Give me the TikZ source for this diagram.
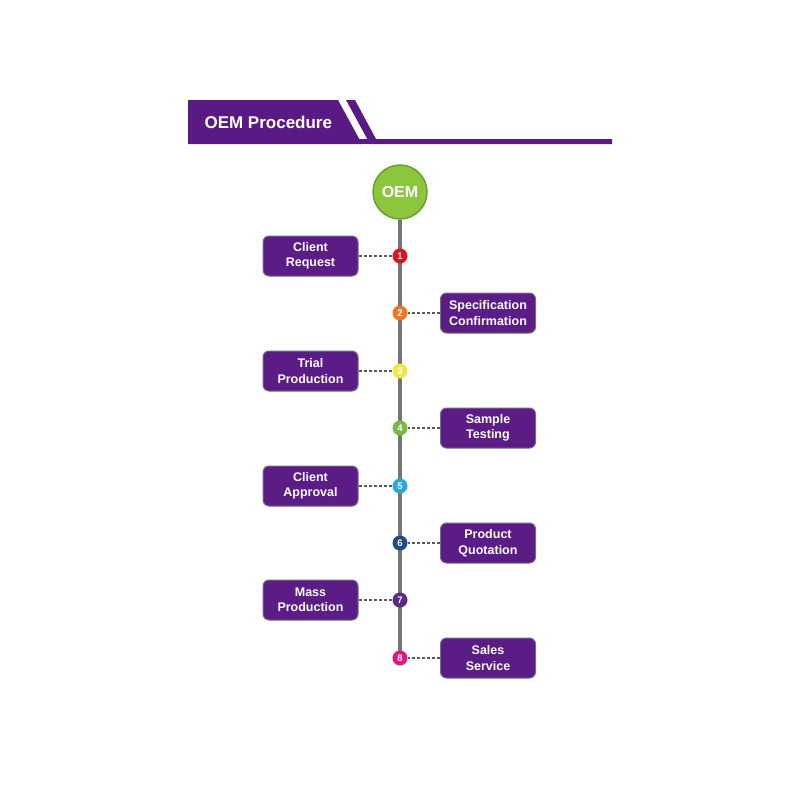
\documentclass[tikz,border=0pt]{standalone}
\usepackage{fontspec}
\setmainfont{Liberation Sans}
\definecolor{hpurple}{HTML}{5A1A83}
\definecolor{bpurple}{HTML}{5B1C85}
\definecolor{bborder}{HTML}{77698A}
\definecolor{oemgreen}{HTML}{8CC63F}
\definecolor{oemborder}{HTML}{6E9E32}
\definecolor{linegray}{HTML}{767676}
\definecolor{dashgray}{HTML}{5A5A5A}
\definecolor{c1}{HTML}{D8161E}
\definecolor{c2}{HTML}{EC7622}
\definecolor{c3}{HTML}{EEE74A}
\definecolor{c4}{HTML}{78B941}
\definecolor{c5}{HTML}{29A8E0}
\definecolor{c6}{HTML}{1F4B8E}
\definecolor{c7}{HTML}{5B2A82}
\definecolor{c8}{HTML}{E0187E}
\tikzset{
  stepbox/.style={draw=bborder, line width=1pt, fill=bpurple, rounded corners=6pt,
    minimum width=95pt, minimum height=40pt, text=white, align=center,
    font=\fontsize{12.5}{15.5}\selectfont\bfseries, inner sep=0pt},
  numdot/.style={circle, minimum size=15pt, inner sep=0pt, text=white,
    font=\fontsize{9.5}{9.5}\selectfont\bfseries},
  dashlink/.style={draw=dashgray, dash pattern=on 3pt off 2pt, line width=1.2pt}
}
\begin{document}
\begin{tikzpicture}[x=1pt,y=-1pt]
\useasboundingbox (0,0) rectangle (800,800);
% header
\fill[hpurple] (188,100) -- (338,100) -- (362,144) -- (188,144) -- cycle;
\fill[hpurple] (346,100) -- (355,100) -- (376,139) -- (612,139) -- (612,144) -- (370,144) -- cycle;
\fill[hpurple] (188,139) rectangle (612,144);
\node[text=white, font=\fontsize{17}{17}\selectfont\bfseries, anchor=west] (title) at (201,122) {OEM Procedure};
% vertical line
\coordinate (lineend) at (400,659);
\node[circle, fill=oemgreen, draw=oemborder, line width=1.5pt, minimum size=54pt, inner sep=0pt,
  text=white, font=\fontsize{16}{16}\selectfont\bfseries] (oem) at (400,192) {OEM};
\draw[linegray, line width=4pt] (oem.south) -- (lineend);
% steps
\foreach \i/\y/\side/\txt in {
  1/256/L/{Client\\Request},
  2/313/R/{Specification\\Confirmation},
  3/371/L/{Trial\\Production},
  4/428/R/{Sample\\Testing},
  5/486/L/{Client\\Approval},
  6/543/R/{Product\\Quotation},
  7/600/L/{Mass\\Production},
  8/658/R/{Sales\\Service}}{
  \node[numdot, fill=c\i] (n\i) at (400,\y) {\i};
  \if\side L
    \node[stepbox] (b\i) at (310.5,\y) {\txt};
  \else
    \node[stepbox] (b\i) at (488,\y) {\txt};
  \fi
  \draw[dashlink] (b\i) -- (n\i);
}
\end{tikzpicture}
\end{document}
